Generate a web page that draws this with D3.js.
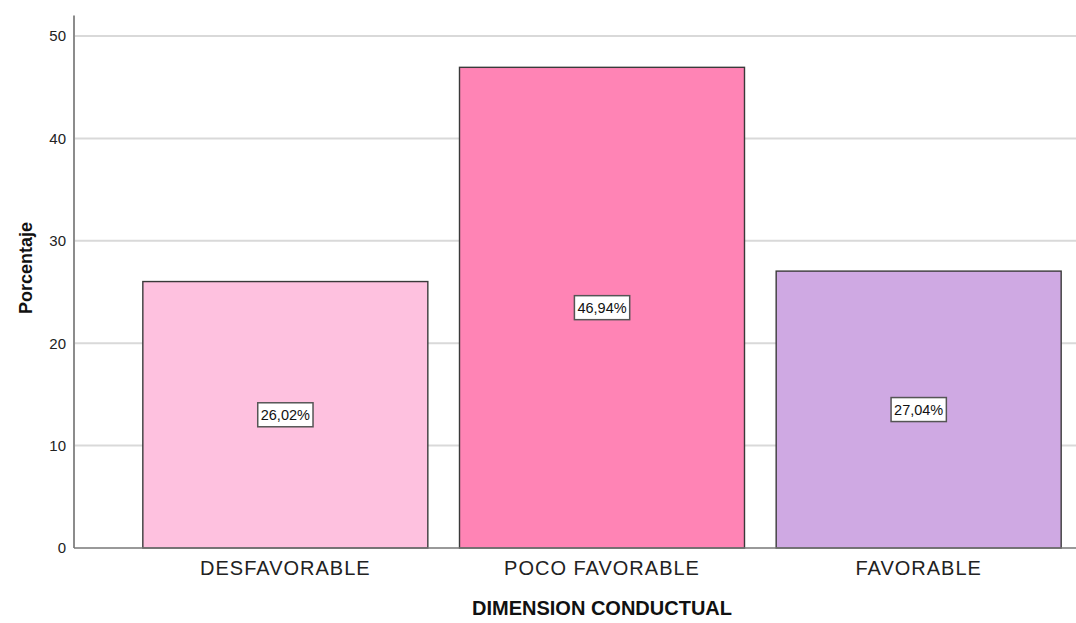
<!DOCTYPE html>
<html>
<head>
<meta charset="utf-8">
<script src="https://cdn.jsdelivr.net/npm/d3@7"></script>
<style>
  html, body { margin: 0; padding: 0; background: #ffffff; }
  svg { display: block; font-family: Arial, "Liberation Sans", sans-serif; }
</style>
</head>
<body>
<svg id="chart" width="1076" height="623"></svg>
<script>
// Porcentaje por nivel de la dimensión conductual
const categories = ["DESFAVORABLE", "POCO FAVORABLE", "FAVORABLE"];
const percentages = [26.02, 46.94, 27.04];
const valueLabels = ["26,02%", "46,94%", "27,04%"];
const barColors = ["#fec1df", "#ff84b5", "#cfa9e3"];
const yTicks = [0, 10, 20, 30, 40, 50];

const svg = d3.select("#chart");
const W = 1076, H = 623;
const axisX = 74;

const x = d3.scaleBand()
  .domain(categories)
  .range([127, 1077])
  .paddingInner(0.1)
  .paddingOuter(0.05);

const y = d3.scaleLinear()
  .domain([0, 50])
  .range([548, 36]);

// horizontal gridlines
svg.append("g")
  .selectAll("line")
  .data(yTicks.filter(d => d > 0))
  .join("line")
  .attr("x1", axisX)
  .attr("x2", W)
  .attr("y1", d => y(d))
  .attr("y2", d => y(d))
  .attr("stroke", "#d9d9d9")
  .attr("stroke-width", 2);

// bars
svg.append("g")
  .selectAll("rect")
  .data(categories)
  .join("rect")
  .attr("x", d => x(d))
  .attr("y", (d, i) => y(percentages[i]))
  .attr("width", x.bandwidth())
  .attr("height", (d, i) => y(0) - y(percentages[i]))
  .attr("fill", (d, i) => barColors[i])
  .attr("stroke", "#3a3a3a")
  .attr("stroke-width", 1.4);

// y axis
const yAxis = svg.append("g")
  .attr("transform", `translate(${axisX},0)`)
  .call(d3.axisLeft(y).tickValues(yTicks).tickSize(0).tickPadding(8));
yAxis.select(".domain").remove();
yAxis.selectAll("text")
  .attr("font-size", 15)
  .attr("font-family", "Arial, 'Liberation Sans', sans-serif")
  .attr("fill", "#222");

svg.append("line")
  .attr("x1", axisX).attr("x2", axisX)
  .attr("y1", y(52)).attr("y2", y(0))
  .attr("stroke", "#8c8c8c")
  .attr("stroke-width", 2);

// x axis baseline and category labels
svg.append("line")
  .attr("x1", axisX).attr("x2", W)
  .attr("y1", y(0)).attr("y2", y(0))
  .attr("stroke", "#777")
  .attr("stroke-width", 1.5);

const xAxis = svg.append("g")
  .attr("transform", `translate(0,${y(0)})`)
  .call(d3.axisBottom(x).tickSize(0).tickPadding(13));
xAxis.select(".domain").remove();
xAxis.selectAll("text")
  .attr("font-size", 20)
  .attr("font-family", "Arial, 'Liberation Sans', sans-serif")
  .attr("letter-spacing", "1px")
  .attr("fill", "#222");

// value labels in boxes at mid-height of each bar
const labels = svg.append("g")
  .selectAll("g")
  .data(categories)
  .join("g")
  .attr("transform", (d, i) =>
    `translate(${x(d) + x.bandwidth() / 2},${y(percentages[i] / 2)})`);

labels.append("text")
  .attr("text-anchor", "middle")
  .attr("dy", "0.36em")
  .attr("font-size", 14.5)
  .attr("fill", "#111")
  .text((d, i) => valueLabels[i]);

labels.each(function () {
  const g = d3.select(this);
  const bb = g.select("text").node().getBBox();
  g.insert("rect", "text")
    .attr("x", bb.x - 3)
    .attr("y", -12)
    .attr("width", bb.width + 6)
    .attr("height", 24)
    .attr("fill", "#ffffff")
    .attr("stroke", "#555")
    .attr("stroke-width", 1.5);
});

// axis titles
svg.append("text")
  .attr("x", 602)
  .attr("y", 615)
  .attr("text-anchor", "middle")
  .attr("font-size", 20)
  .attr("font-weight", "bold")
  .attr("fill", "#111")
  .text("DIMENSION CONDUCTUAL");

svg.append("text")
  .attr("transform", "translate(32,268) rotate(-90)")
  .attr("text-anchor", "middle")
  .attr("font-size", 18)
  .attr("font-weight", "bold")
  .attr("fill", "#111")
  .text("Porcentaje");
</script>
</body>
</html>
